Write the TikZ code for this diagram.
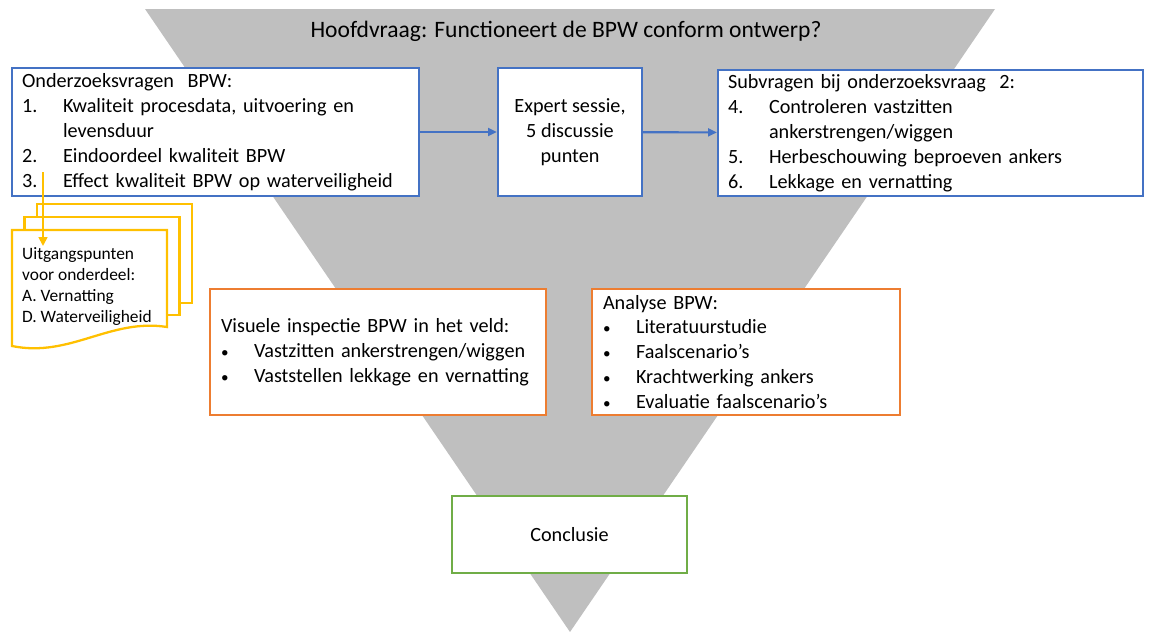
\documentclass[tikz,border=0pt]{standalone}
\usepackage{fontspec}
\setmainfont{Carlito}
\usetikzlibrary{arrows.meta}
\definecolor{bpwblue}{HTML}{4472C4}
\definecolor{bpworange}{HTML}{ED7D31}
\definecolor{bpwgreen}{HTML}{70AD47}
\definecolor{bpwyellow}{HTML}{FFC000}
\definecolor{bpwgray}{HTML}{BFBFBF}

\newcommand{\nr}[2]{\makebox[0.82cm][l]{#1}#2}
\newcommand{\blt}[1]{\makebox[0.66cm][l]{\scalebox{0.75}{\textbullet}}#1}

\begin{document}
\begin{tikzpicture}[x=0.02cm, y=-0.02cm, line width=1.3pt,
  box/.style={draw, fill=white, inner xsep=0.2cm, inner ysep=0pt, align=left,
    font=\fontsize{11.5}{14.2}\selectfont},
  flow/.style={bpwblue, line width=1.2pt, -{Triangle[length=5pt, width=4.5pt]}}]
  \useasboundingbox (0,0) rectangle (1150,632);
  % funnel in the background
  \fill[bpwgray] (145,9) -- (995,9) -- (570,632) -- cycle;
  \node[font=\fontsize{13.4}{16}\selectfont] (hoofd) at (566,31)
    {Hoofdvraag: Functioneert de BPW conform ontwerp?};

  % research questions, expert session, sub questions
  \node[box, draw=bpwblue, text width=7.74cm, minimum height=2.56cm] (vragen) at (215.5,132)
    {Onderzoeksvragen\ \ BPW:\\
     \nr{1.}{Kwaliteit procesdata, uitvoering en}\\
     \nr{}{levensduur}\\
     \nr{2.}{Eindoordeel\ kwaliteit BPW}\\
     \nr{3.}{Effect kwaliteit BPW op waterveiligheid}};
  \node[box, draw=bpwblue, align=center, inner xsep=0pt, minimum width=2.88cm, minimum height=2.56cm] (expert) at (570,132)
    {Expert sessie,\\5 discussie\\punten};
  \node[box, draw=bpwblue, text width=8.1cm, minimum height=2.52cm] (subvragen) at (930.5,133)
    {Subvragen bij onderzoeksvraag\ \ 2:\\
     \nr{4.}{Controleren vastzitten}\\
     \nr{}{ankerstrengen/wiggen}\\
     \nr{5.}{Herbeschouwing\ beproeven ankers}\\
     \nr{6.}{Lekkage en vernatting}};
  \draw[flow] (vragen) -- (expert);
  \draw[flow] (expert) -- (subvragen);

  % stack of documents
  \foreach \d in {2,1}{
    \filldraw[draw=bpwyellow, fill=white] (12+\d*12.5,230-\d*13) rectangle (167+\d*12.5,327-\d*12);
  }
  \filldraw[draw=bpwyellow, fill=white] (12,230) -- (167,230) -- (167,327)
    .. controls (110,318) and (70,358) .. (12,346) -- cycle;
  \node[anchor=north west, inner sep=0pt, align=left, font=\fontsize{9.9}{12}\selectfont] (uitgang) at (21,246)
    {Uitgangspunten\\voor onderdeel:\\A. Vernatting\\D. Waterveiligheid};
  \coordinate (vanvraag) at (43,172);
  \draw[bpwyellow, line width=1pt, -{Triangle[length=5pt, width=5pt]}] (vanvraag) -- (vanvraag |- uitgang.north);

  % field inspection and analysis
  \node[box, draw=bpworange, inner xsep=0.22cm, text width=6.28cm, minimum height=2.52cm] (inspectie) at (378,352)
    {Visuele inspectie BPW in het veld:\\
     \blt{Vastzitten ankerstrengen/wiggen}\\
     \blt{Vaststellen lekkage en vernatting}};
  \node[box, draw=bpworange, inner xsep=0.22cm, text width=5.72cm, minimum height=2.52cm] (analyse) at (746,352)
    {Analyse BPW:\\
     \blt{Literatuurstudie}\\
     \blt{Faalscenario’s}\\
     \blt{Krachtwerking ankers}\\
     \blt{Evaluatie faalscenario’s}};

  % conclusion
  \node[box, draw=bpwgreen, align=center, minimum width=4.7cm, minimum height=1.54cm] (conclusie) at (569.5,534.5)
    {Conclusie};
\end{tikzpicture}
\end{document}
